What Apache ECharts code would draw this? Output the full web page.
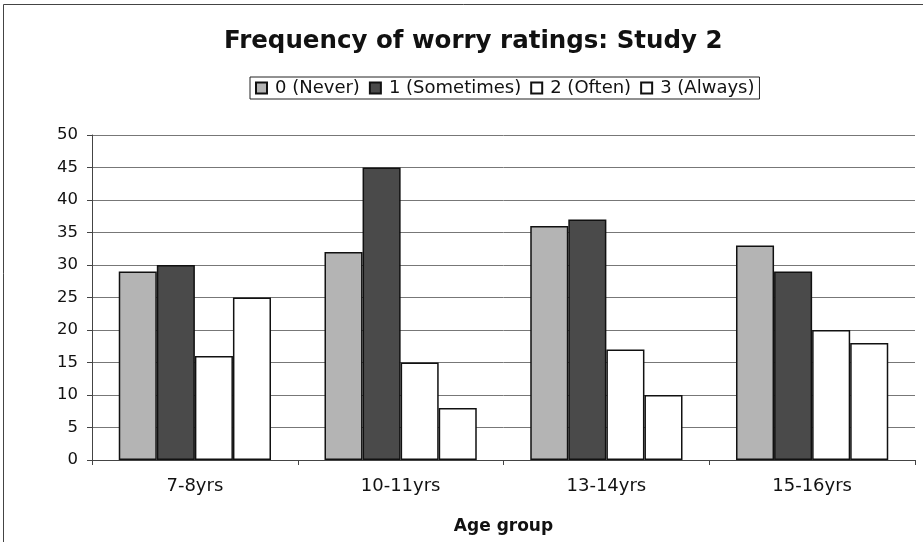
<!DOCTYPE html>
<html lang="en">
<head>
<meta charset="UTF-8">
<title>Frequency of worry ratings</title>
<script src="https://cdn.jsdelivr.net/npm/echarts@6/dist/echarts.min.js"></script>
</head>
<body style="margin:0;">
<div id="main" style="width:923px;height:542px;"></div>
<script>
// age groups and counts per rating
var ageGroups = ['7-8yrs', '10-11yrs', '13-14yrs', '15-16yrs'];
var never = [29, 32, 36, 33];
var sometimes = [30, 45, 37, 29];
var often = [16, 15, 17, 20];
var always = [25, 8, 10, 18];
var seriesNames = ['0 (Never)', '1 (Sometimes)', '2 (Often)', '3 (Always)'];
var seriesColors = ['#b4b4b4', '#4a4a4a', '#ffffff', '#ffffff'];

var font = 'DejaVu Sans';
var chart = echarts.init(document.getElementById('main'));

var values = [never, sometimes, often, always];
var series = values.map(function (d, i) {
    return {
        name: seriesNames[i],
        type: 'bar',
        data: d,
        barGap: '0%',
        barCategoryGap: '26%',
        itemStyle: { color: seriesColors[i], borderColor: '#111', borderWidth: 1.5 }
    };
});

chart.setOption({
    animation: false,
    backgroundColor: '#fff',
    title: {
        text: 'Frequency of worry ratings: Study 2',
        left: 219, top: 24,
        textStyle: { fontFamily: font, fontSize: 24.5, fontWeight: 'bold', color: '#111' }
    },
    legend: {
        top: 77, left: 250,
        itemWidth: 11, itemHeight: 11, itemGap: 9,
        padding: [2, 5],
        borderColor: '#222', borderWidth: 1,
        icon: 'rect',
        itemStyle: { borderColor: '#111', borderWidth: 2 },
        textStyle: { fontFamily: font, fontSize: 18, color: '#111', padding: [0, 0, 0, 3] }
    },
    grid: { left: 92, right: 8, top: 135, bottom: 82 },
    xAxis: {
        type: 'category',
        data: ageGroups,
        name: 'Age group',
        nameLocation: 'middle',
        nameGap: 58,
        nameTextStyle: { fontFamily: font, fontSize: 17, fontWeight: 'bold', color: '#111' },
        axisLine: { lineStyle: { color: '#444' } },
        axisTick: { show: true, length: 5, lineStyle: { color: '#444' } },
        axisLabel: { fontFamily: font, fontSize: 18, color: '#111', margin: 17 }
    },
    yAxis: {
        type: 'value',
        min: 0, max: 50, interval: 5,
        axisLine: { show: true, lineStyle: { color: '#444' } },
        axisTick: { show: true, length: 5, lineStyle: { color: '#444' } },
        axisLabel: { fontFamily: font, fontSize: 16.5, color: '#111', margin: 14 },
        splitLine: { lineStyle: { color: '#777', width: 1 } }
    },
    graphic: [{
        type: 'rect',
        shape: { x: 3.5, y: 4.5, width: 930, height: 560 },
        style: { fill: 'none', stroke: '#444', lineWidth: 1 },
        silent: true
    }],
    series: series
});
</script>
</body>
</html>
